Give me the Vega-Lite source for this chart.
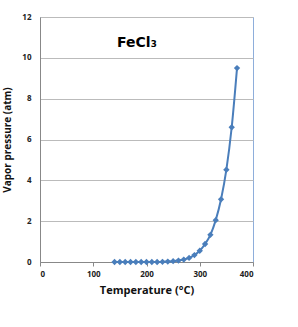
{
  "$schema": "https://vega.github.io/schema/vega-lite/v6.json",
  "width": 213,
  "height": 245,
  "autosize": "none",
  "padding": {"left": 40, "top": 17, "right": 45, "bottom": 65},
  "background": "white",
  "config": {
    "view": {"stroke": "#8eaedb", "strokeWidth": 1},
    "font": "Open Sans"
  },
  "data": {
    "values": [
      {"t": 140, "p": 0.0},
      {"t": 150, "p": 0.0},
      {"t": 160, "p": 0.0},
      {"t": 170, "p": 0.0},
      {"t": 180, "p": 0.0},
      {"t": 190, "p": 0.0},
      {"t": 200, "p": 0.0},
      {"t": 210, "p": 0.0},
      {"t": 220, "p": 0.0},
      {"t": 230, "p": 0.01},
      {"t": 240, "p": 0.02},
      {"t": 250, "p": 0.04},
      {"t": 260, "p": 0.07},
      {"t": 270, "p": 0.12},
      {"t": 280, "p": 0.2},
      {"t": 290, "p": 0.34},
      {"t": 300, "p": 0.55},
      {"t": 310, "p": 0.88},
      {"t": 320, "p": 1.33},
      {"t": 330, "p": 2.05},
      {"t": 340, "p": 3.07},
      {"t": 350, "p": 4.52},
      {"t": 360, "p": 6.6},
      {"t": 370, "p": 9.5}
    ]
  },
  "encoding": {
    "x": {
      "field": "t", "type": "quantitative",
      "scale": {"domain": [0, 400], "nice": false},
      "axis": {
        "title": "Temperature (\u00b0C)", "values": [0, 100, 200, 300, 400],
        "grid": false, "domainColor": "#888888", "tickColor": "#888888", "tickSize": 4,
        "labelFontSize": 8, "labelFontWeight": "bold", "labelColor": "#222222", "labelPadding": 4,
        "titleFontSize": 11, "titleFontWeight": "bold", "titleColor": "#111111", "titlePadding": 6
      }
    },
    "y": {
      "field": "p", "type": "quantitative",
      "scale": {"domain": [0, 12], "nice": false},
      "axis": {
        "title": "Vapor pressure (atm)", "values": [0, 2, 4, 6, 8, 10, 12],
        "grid": true, "gridColor": "#bbbbbb", "domainColor": "#888888", "ticks": false,
        "labelFontSize": 8, "labelFontWeight": "bold", "labelColor": "#222222", "labelPadding": 9,
        "titleFontSize": 10, "titleFontWeight": "bold", "titleColor": "#111111", "titlePadding": 9
      }
    }
  },
  "layer": [
    {
      "mark": {"type": "line", "color": "#4a7ebb", "strokeWidth": 2, "interpolate": "monotone"}
    },
    {
      "mark": {"type": "point", "shape": "diamond", "filled": true, "color": "#4a7ebb", "size": 40, "opacity": 1}
    },
    {
      "data": {"values": [{"t": 182, "p": 10.75, "label": "FeCl\u2083"}]},
      "mark": {"type": "text", "fontSize": 14, "fontWeight": "bold", "color": "#000000", "font": "DejaVu Sans"},
      "encoding": {"text": {"field": "label"}}
    }
  ]
}
